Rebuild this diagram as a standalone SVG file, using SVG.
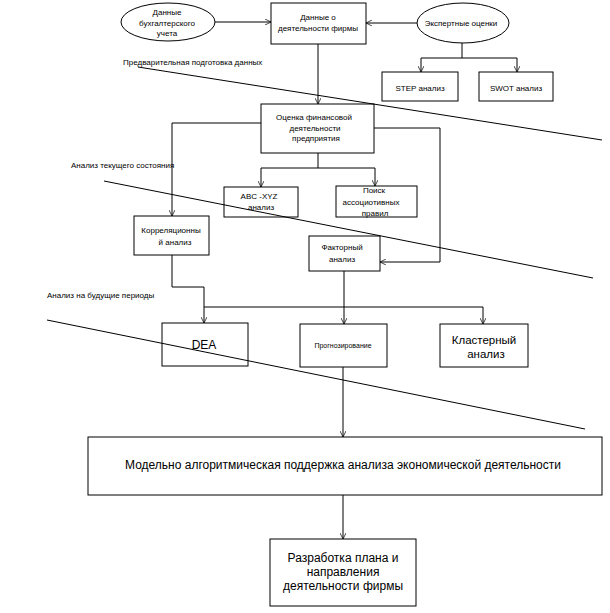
<svg xmlns="http://www.w3.org/2000/svg" width="610" height="613" viewBox="0 0 610 613">
<defs>
<marker id="arr" viewBox="0 0 10 10" refX="10" refY="5" markerWidth="6" markerHeight="6" markerUnits="userSpaceOnUse" orient="auto">
<path d="M0,0 L10,5 L0,10" fill="none" stroke="#000" stroke-width="1.2"/>
</marker>
<style>
rect, ellipse { fill: #fff; stroke: #000; stroke-width: 1; }
.c { fill: none; stroke: #000; stroke-width: 1; }
.a { marker-end: url(#arr); }
text { font-family: "Liberation Sans", Arial, sans-serif; fill: #000; }
.s { font-size: 8px; }
.xs { font-size: 7px; }
.m { font-size: 12px; }
.k { font-size: 11.5px; }
.mid { text-anchor: middle; }
</style>
</defs>

<g id="connectors">
<line class="c a" x1="215" y1="22" x2="271" y2="22"/>
<line class="c a" x1="417" y1="23" x2="366" y2="23"/>
<polyline class="c" points="462,43 462,58"/>
<polyline class="c a" points="462,58 421,58 421,72"/>
<polyline class="c a" points="462,58 517,58 517,72"/>
<line class="c a" x1="318" y1="44" x2="318" y2="104"/>
<polyline class="c a" points="261,123 172,123 172,216"/>
<polyline class="c a" points="374,128 440,128 440,262 380,262"/>
<line class="c" x1="318" y1="153" x2="318" y2="168"/>
<polyline class="c a" points="318,168 261,168 261,187"/>
<polyline class="c a" points="318,168 375,168 375,186"/>
<polyline class="c a" points="172,255 172,287 204,287 204,323"/>
<line class="c a" x1="344" y1="271" x2="344" y2="324"/>
<line class="c" x1="204" y1="307" x2="483" y2="307"/>
<line class="c a" x1="483" y1="307" x2="483" y2="324"/>
<line class="c a" x1="343" y1="367" x2="343" y2="437"/>
<line class="c a" x1="343" y1="495" x2="343" y2="539"/>
</g>

<g id="n_buh">
<ellipse cx="168" cy="22" rx="47" ry="19"/>
<text class="s mid" x="167" y="15">Данные</text>
<text class="s mid" x="167" y="26">бухгалтерского</text>
<text class="s mid" x="167" y="36">учета</text>
</g>

<g id="n_data">
<rect x="271" y="3" width="95" height="41"/>
<text class="s mid" x="318" y="20">Данные о</text>
<text class="s mid" x="318" y="31">деятельности фирмы</text>
</g>

<g id="n_expert">
<ellipse cx="463" cy="23" rx="46" ry="20"/>
<text class="s mid" x="461" y="26">Экспертные оценки</text>
</g>

<g id="n_step">
<rect x="382" y="72" width="76" height="29"/>
<text class="s mid" x="420" y="91">STEP  анализ</text>
</g>

<g id="n_swot">
<rect x="479" y="72" width="74" height="29"/>
<text class="s mid" x="516" y="91">SWOT анализ</text>
</g>

<g id="n_ocenka">
<rect x="261" y="104" width="113" height="49"/>
<text class="s mid" x="314" y="120">Оценка финансовой</text>
<text class="s mid" x="315" y="131">деятельности</text>
<text class="s mid" x="316" y="141">предприятия</text>
</g>

<g id="n_abc">
<rect x="224" y="187" width="74" height="30"/>
<text class="s mid" x="259" y="199">ABC -XYZ</text>
<text class="s mid" x="261" y="210">анализ</text>
</g>

<g id="n_poisk">
<rect x="336" y="186" width="81" height="31"/>
<text class="s mid" x="374" y="193">Поиск</text>
<text class="s mid" x="371" y="205">ассоциотивных</text>
<text class="s mid" x="375" y="216">правил</text>
</g>

<g id="n_korr">
<rect x="134" y="216" width="75" height="39"/>
<text class="s mid" x="171" y="233">Корреляционны</text>
<text class="s mid" x="175" y="245">й анализ</text>
</g>

<g id="n_faktor">
<rect x="309" y="236" width="71" height="35"/>
<text class="s mid" x="342" y="250">Факторный</text>
<text class="s mid" x="342" y="262">анализ</text>
</g>

<g id="n_dea">
<rect x="162" y="323" width="86" height="43"/>
<text class="m mid" x="204" y="349">DEA</text>
</g>

<g id="n_prognoz">
<rect x="300" y="324" width="87" height="43"/>
<text class="xs mid" x="343" y="348">Прогнозирование</text>
</g>

<g id="n_klaster">
<rect x="440" y="324" width="88" height="43"/>
<text class="k mid" x="484" y="344">Кластерный</text>
<text class="k mid" x="486" y="358">анализ</text>
</g>

<g id="n_model">
<rect x="88" y="437" width="514" height="58"/>
<text class="m mid" x="343" y="469">Модельно алгоритмическая поддержка анализа экономической деятельности</text>
</g>

<g id="n_plan">
<rect x="270" y="539" width="146" height="67"/>
<text class="m mid" x="343" y="562">Разработка плана и</text>
<text class="m mid" x="343" y="576">направления</text>
<text class="m mid" x="343" y="590">деятельности фирмы</text>
</g>

<g id="dividers">
<line class="c" x1="138" y1="67" x2="602" y2="140"/>
<line class="c" x1="104" y1="181" x2="593" y2="278"/>
<line class="c" x1="47" y1="320" x2="585" y2="429"/>
<text class="s" x="123" y="65">Предварительная подготовка данных</text>
<text class="s" x="71" y="168">Анализ текущего состояния</text>
<text class="s" x="47" y="298">Анализ на будущие периоды</text>
</g>
</svg>
